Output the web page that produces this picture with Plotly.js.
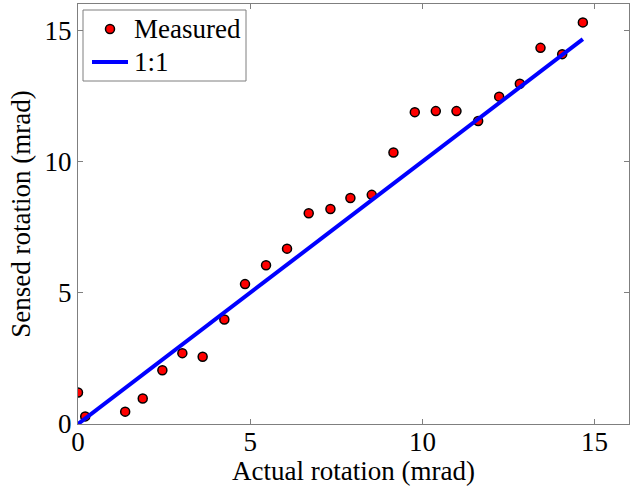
<!DOCTYPE html>
<html>
<head>
<meta charset="utf-8">
<script src="https://cdn.plot.ly/plotly-3.0.1.min.js"></script>
<style>html,body{margin:0;padding:0;background:#fff;}#chart{width:631px;height:486px;}</style>
</head>
<body>
<div id="chart"></div>
<script>
// Measured data (mrad)
const actualRotation = [0.00, 0.21, 1.37, 1.88, 2.45, 3.03, 3.62, 4.25, 4.85, 5.46, 6.07, 6.70, 7.33, 7.91, 8.53, 9.16, 9.78, 10.39, 10.99, 11.62, 12.23, 12.83, 13.43, 14.06, 14.66];
const sensedRotation = [1.20, 0.29, 0.47, 0.97, 2.05, 2.70, 2.56, 3.98, 5.33, 6.05, 6.68, 8.03, 8.19, 8.61, 8.73, 10.34, 11.88, 11.92, 11.92, 11.54, 12.47, 12.96, 14.33, 14.09, 15.30];
// 1:1 reference line
const oneToOneX = actualRotation;
const oneToOneY = actualRotation;
const tickVals = [0, 5, 10, 15];
const tickText = ['0', '5', '10', '15'];
const legendNames = ['Measured', '1:1'];

const serif = 'Liberation Serif, Times New Roman, serif';
const W = 631, H = 486, ML = 78, MR = 2, MT = 4, MB = 62;
const PW = W - ML - MR, PH = H - MT - MB;
const px = v => (v - ML) / PW;
const py = v => (H - MB - v) / PH;

const markerStyle = {color: '#ff0000', size: 9, line: {color: '#000000', width: 1.5}};
const lineStyle = {color: '#0000ff', width: 4};

const traces = [
  {x: actualRotation, y: sensedRotation, mode: 'markers', type: 'scatter', name: legendNames[0], marker: markerStyle},
  {x: oneToOneX, y: oneToOneY, mode: 'lines', type: 'scatter', name: legendNames[1], line: lineStyle}
];

const axisCommon = {
  showgrid: false, zeroline: false,
  showline: true, linecolor: '#7f7f7f', linewidth: 1, mirror: 'ticks',
  ticks: 'inside', ticklen: 5, tickcolor: '#7f7f7f', tickwidth: 1,
  tickvals: tickVals, ticktext: tickText,
  tickfont: {family: serif, size: 27, color: '#000'}
};

// Legend box drawn with shapes/annotations to match the reference's compact legend
const shapes = [
  {type: 'rect', xref: 'paper', yref: 'paper', x0: px(83), x1: px(246), y0: py(81), y1: py(10),
   line: {color: '#7f7f7f', width: 1}, fillcolor: '#ffffff', layer: 'above'},
  {type: 'circle', xref: 'paper', yref: 'paper', x0: px(105.5), x1: px(114.5), y0: py(33.5), y1: py(24.5),
   line: {color: '#000', width: 1.5}, fillcolor: '#ff0000', layer: 'above'},
  {type: 'line', xref: 'paper', yref: 'paper', x0: px(92), x1: px(128), y0: py(62), y1: py(62),
   line: {color: '#0000ff', width: 4}, layer: 'above'}
];
const annotations = [
  {xref: 'paper', yref: 'paper', x: px(132), y: py(29), xanchor: 'left', yanchor: 'middle', showarrow: false,
   text: legendNames[0], font: {family: serif, size: 27, color: '#000'}},
  {xref: 'paper', yref: 'paper', x: px(132), y: py(62), xanchor: 'left', yanchor: 'middle', showarrow: false,
   text: legendNames[1], font: {family: serif, size: 27, color: '#000'}}
];

const layout = {
  width: W, height: H,
  margin: {l: ML, r: MR, t: MT, b: MB, pad: 0},
  paper_bgcolor: '#fff', plot_bgcolor: '#fff',
  showlegend: false,
  shapes: shapes,
  annotations: annotations,
  xaxis: Object.assign({}, axisCommon, {
    range: [0, 16], ticklabelstandoff: -6,
    title: {text: 'Actual rotation (mrad)', font: {family: serif, size: 27, color: '#000'}, standoff: 0}
  }),
  yaxis: Object.assign({}, axisCommon, {
    range: [0, 16], ticklabelstandoff: 0,
    title: {text: 'Sensed rotation (mrad)', font: {family: serif, size: 27, color: '#000'}, standoff: 6}
  })
};

Plotly.newPlot('chart', traces, layout, {displayModeBar: false, staticPlot: true});
</script>
</body>
</html>
